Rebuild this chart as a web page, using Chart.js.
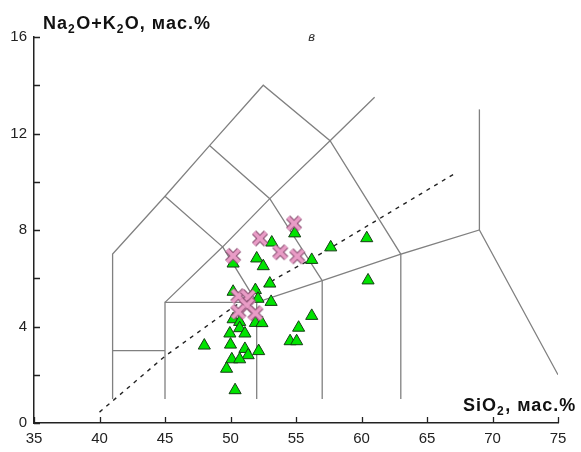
<!DOCTYPE html>
<html>
<head>
<meta charset="utf-8">
<script src="https://cdn.jsdelivr.net/npm/chart.js@4.4.1/dist/chart.umd.min.js"></script>
<style>
  html, body { margin: 0; padding: 0; background: #fff; }
  #wrap { width: 581px; height: 452px; }
</style>
</head>
<body>
<div id="wrap"><canvas id="tas" width="581" height="452"></canvas></div>
<script>
// TAS diagram, SiO2 vs Na2O+K2O

// green triangles
const triX = [54.9, 53.15, 50.2, 52.0, 52.5, 57.65, 60.4, 56.2, 60.5, 53.0,
              51.9, 50.2, 52.1, 53.1, 56.2, 50.2, 50.7, 51.9, 52.4, 55.2,
              50.7, 49.95, 51.1, 54.55, 55.05, 48.0, 50.0, 51.1, 52.15, 51.35,
              50.1, 50.7, 49.7, 50.35];
const triY = [7.86, 7.48, 6.61, 6.82, 6.5, 7.28, 7.66, 6.76, 5.91, 5.78,
              5.51, 5.44, 5.15, 5.02, 4.44, 4.3, 4.19, 4.15, 4.14, 3.95,
              3.93, 3.71, 3.71, 3.39, 3.39, 3.21, 3.25, 3.07, 2.98, 2.81,
              2.64, 2.64, 2.25, 1.36];

// pink crosses
const crossX = [54.85, 52.25, 53.8, 55.1, 50.2, 50.6, 51.35, 51.25, 50.6, 51.9];
const crossY = [8.27, 7.65, 7.08, 6.91, 6.93, 5.26, 5.22, 4.88, 4.61, 4.55];

// field boundaries (SiO2, Na2O+K2O)
const fieldLines = [
  [[41, 1], [41, 7], [45, 9.4], [48.4, 11.5], [52.5, 14], [57.6, 11.7], [63, 7], [69, 8], [75, 2.0]],
  [[41, 3], [45, 3]],
  [[45, 1], [45, 5], [52, 5], [57, 5.9], [63, 7]],
  [[52, 1], [52, 5]],
  [[57, 1], [57, 5.9]],
  [[63, 1], [63, 7]],
  [[45, 9.4], [49.4, 7.3], [53, 9.3], [57.6, 11.7], [61, 13.5]],
  [[45, 5], [49.4, 7.3], [52, 5]],
  [[48.4, 11.5], [53, 9.3], [57, 5.9]],
  [[69, 8], [69, 13]]
];

// alkaline / subalkaline divide
const divideX = [40, 45, 49.8, 53.5, 57.1, 61, 67];
const divideY = [0.45, 2.77, 4.65, 6.0, 7.08, 8.35, 10.3];

const xTicks = [35, 40, 45, 50, 55, 60, 65, 70, 75];
const yTicks = [0, 2, 4, 6, 8, 10, 12, 14, 16];

const toPts = (xs, ys) => xs.map((x, i) => ({ x: x, y: ys[i] }));

// outlined X marker
function makeCross() {
  const c = document.createElement('canvas');
  c.width = 18; c.height = 18;
  const g = c.getContext('2d');
  const d = 6;
  const draw = () => {
    g.beginPath();
    g.moveTo(9 - d, 9 - d); g.lineTo(9 + d, 9 + d);
    g.moveTo(9 + d, 9 - d); g.lineTo(9 - d, 9 + d);
    g.stroke();
  };
  g.lineCap = 'butt';
  g.strokeStyle = '#8a4f72'; g.lineWidth = 5.8; draw();
  g.strokeStyle = '#e99cc6'; g.lineWidth = 3.8; draw();
  return c;
}

const lineSets = fieldLines.map(l => ({
  data: l.map(p => ({ x: p[0], y: p[1] })),
  showLine: true,
  borderColor: '#808080',
  borderWidth: 1.3,
  pointRadius: 0,
  order: 3
}));

const axisDecor = {
  id: 'axisDecor',
  afterDraw(chart) {
    const ctx = chart.ctx;
    const xs = chart.scales.x, ys = chart.scales.y;
    const a = chart.chartArea;
    ctx.save();
    ctx.strokeStyle = '#222';
    ctx.lineWidth = 1.3;
    ctx.beginPath();
    yTicks.forEach(v => {
      const py = Math.round(ys.getPixelForValue(v)) + 0.5;
      ctx.moveTo(a.left, py); ctx.lineTo(a.left + 6, py);
    });
    xTicks.forEach(v => {
      const px = Math.round(xs.getPixelForValue(v)) + 0.5;
      ctx.moveTo(px, a.bottom); ctx.lineTo(px, a.bottom - 6);
    });
    ctx.stroke();

    // axis titles with subscripts
    const title = (parts, x, y) => {
      let cx = x;
      parts.forEach(p => {
        ctx.font = p.sub ? 'bold 12px "Liberation Sans", Arial' : 'bold 18px "Liberation Sans", Arial';
        ctx.fillText(p.t, cx, p.sub ? y + 4 : y);
        cx += ctx.measureText(p.t).width + (p.sub ? 0.5 : 0);
      });
    };
    ctx.fillStyle = '#111';
    ctx.textBaseline = 'alphabetic';
    ctx.textAlign = 'left';
    if ('letterSpacing' in ctx) ctx.letterSpacing = '1px';
    title([{ t: 'Na' }, { t: '2', sub: true }, { t: 'O+K' }, { t: '2', sub: true }, { t: 'O, мас.%' }], 43, 29);
    title([{ t: 'SiO' }, { t: '2', sub: true }, { t: ', мас.%' }], 463, 411);
    if ('letterSpacing' in ctx) ctx.letterSpacing = '0px';

    ctx.font = 'italic 13px "Liberation Sans", Arial';
    ctx.fillStyle = '#333';
    ctx.textAlign = 'center';
    ctx.fillText('в', xs.getPixelForValue(56.2), ys.getPixelForValue(16.0) + 4);
    ctx.restore();
  }
};

new Chart(document.getElementById('tas').getContext('2d'), {
  type: 'scatter',
  data: {
    datasets: [
      {
        data: toPts(crossX, crossY),
        pointStyle: makeCross(),
        pointRadius: 9,
        order: 0
      },
      {
        data: toPts(triX, triY),
        pointStyle: 'triangle',
        pointRadius: 7,
        backgroundColor: '#00e400',
        borderColor: '#163d16',
        borderWidth: 1,
        order: 1
      },
      {
        data: toPts(divideX, divideY),
        showLine: true,
        borderColor: '#222',
        borderWidth: 1.4,
        borderDash: [4, 5],
        pointRadius: 0,
        order: 2
      },
      ...lineSets
    ]
  },
  options: {
    responsive: false,
    animation: false,
    events: [],
    layout: { padding: { top: 37, right: 23, left: 0, bottom: 0 } },
    plugins: {
      legend: { display: false },
      tooltip: { enabled: false }
    },
    scales: {
      x: {
        type: 'linear',
        min: 35,
        max: 75,
        afterFit: s => { s.height = 29; },
        afterBuildTicks: s => { s.ticks = xTicks.map(v => ({ value: v })); },
        grid: { display: false, drawTicks: false },
        border: { display: true, color: '#222', width: 1.5 },
        ticks: {
          padding: 7,
          color: '#222',
          font: { family: '"Liberation Sans", Arial', size: 15 }
        }
      },
      y: {
        type: 'linear',
        min: 0,
        max: 16,
        afterFit: s => { s.width = 34; },
        afterBuildTicks: s => { s.ticks = [0, 4, 8, 12, 16].map(v => ({ value: v })); },
        grid: { display: false, drawTicks: false },
        border: { display: true, color: '#222', width: 1.5 },
        ticks: {
          padding: 7,
          color: '#222',
          font: { family: '"Liberation Sans", Arial', size: 15 }
        }
      }
    }
  },
  plugins: [axisDecor]
});
</script>
</body>
</html>
